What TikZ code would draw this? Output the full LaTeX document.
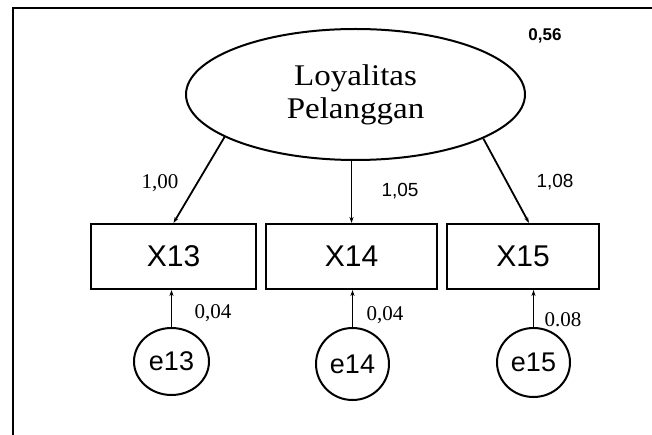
\documentclass[tikz,border=0pt]{standalone}
\usepackage{fontspec}
\usetikzlibrary{shapes.geometric,arrows.meta}
\newfontfamily\latentfont[FakeStretch=1.1]{Liberation Serif}
\newfontfamily\obsfont{Liberation Sans}
\newfontfamily\numserif{Liberation Serif}
\begin{document}
\begin{tikzpicture}[x=1pt,y=-1pt,
  line width=2pt,
  latent/.style={draw,ellipse,inner sep=0pt,minimum width=339pt,minimum height=131pt,
    font=\latentfont\fontsize{30}{36}\selectfont,align=center},
  obsbox/.style={draw,rectangle,inner sep=0pt,minimum height=65pt,
    font=\obsfont\fontsize{30}{32}\selectfont},
  errc/.style={draw,ellipse,inner sep=0pt,minimum width=74pt,minimum height=69pt,
    font=\obsfont\fontsize{27}{29}\selectfont},
  path/.style={-{Stealth[length=6pt,width=4pt]},line width=1.8pt},
  wsans/.style={font=\obsfont\fontsize{19}{21}\selectfont},
  wserif/.style={font=\numserif\fontsize{21}{23}\selectfont}]
\useasboundingbox (0,0) rectangle (652,435);
% frame lines (top and left)
\draw[line width=2.2pt] (13,436) -- (13,8) -- (653,8);
% latent construct
\node[latent] (lp) at (355.5,94.5) {Loyalitas\\[-3pt]Pelanggan};
% indicators
\node[obsbox,minimum width=165pt] (x13) at (173.5,256.5) {X13};
\node[obsbox,minimum width=171pt] (x14) at (351.5,256.5) {X14};
\node[obsbox,minimum width=152pt] (x15) at (523,256.5) {X15};
% error terms
\node[errc,minimum width=75pt,minimum height=67pt] (e13) at (171.5,361.5) {e13};
\node[errc,minimum width=73pt,minimum height=72pt] (e14) at (352.5,364) {e14};
\node[errc,minimum width=73pt,minimum height=69pt] (e15) at (533.5,362.5) {e15};
% loadings
\draw[path] (lp.198) -- (x13.north);
\draw[path] (lp.south -| x14.north) -- (x14.north);
\draw[path] (lp.341.5) -- ([xshift=6pt]x15.north);
% error paths
\draw[path] (e13.north) -- (e13.north |- x13.south);
\draw[path] (e14.north) -- (e14.north |- x14.south);
\draw[path] (e15.north) -- (e15.north |- x15.south);
% estimates
\node[font=\obsfont\bfseries\fontsize{17}{19}\selectfont] (v56) at (545,36) {0,56};
\node[wserif] (l100) at (160,183) {1,00};
\node[wsans] (l105) at (400,191) {1,05};
\node[wsans] (l108) at (555,182) {1,08};
\node[wserif] (v13) at (213,313) {0,04};
\node[wserif] (v14) at (385,315) {0,04};
\node[wserif] (v15) at (563,320) {0.08};
\end{tikzpicture}
\end{document}
